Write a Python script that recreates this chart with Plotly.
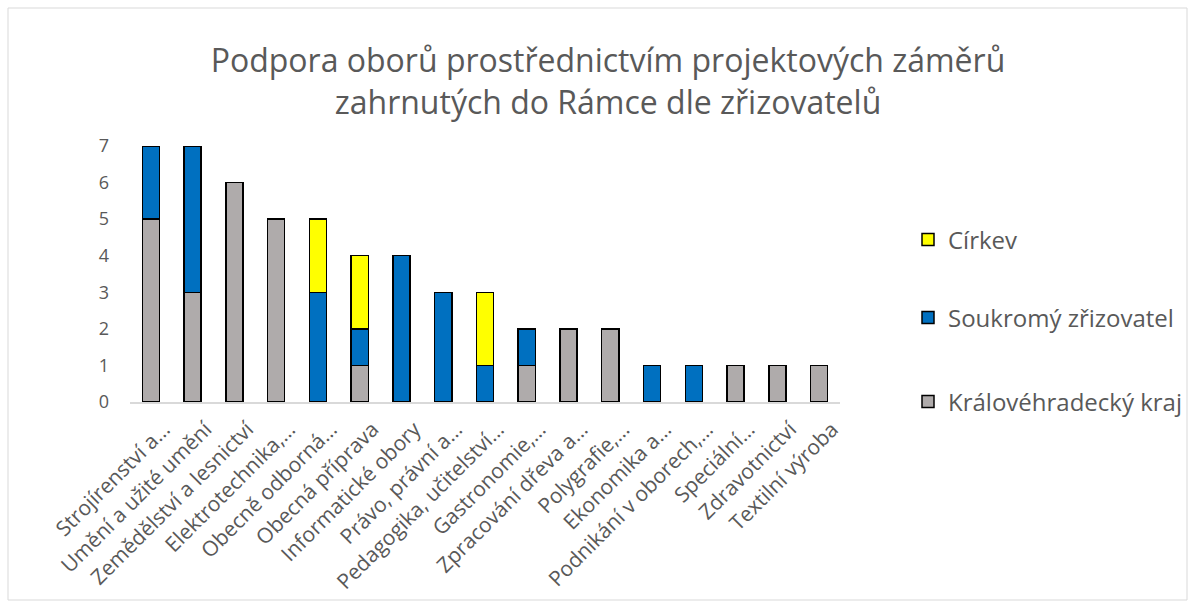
import plotly.graph_objects as go

# Categories (truncated as displayed on the axis)
categories = [
    "Strojírenství a…", "Umění a užité umění", "Zemědělství a lesnictví",
    "Elektrotechnika,…", "Obecně odborná…", "Obecná příprava",
    "Informatické obory", "Právo, právní a…", "Pedagogika, učitelství…",
    "Gastronomie,…", "Zpracování dřeva a…", "Polygrafie,…",
    "Ekonomika a…", "Podnikání v oborech,…", "Speciální…",
    "Zdravotnictví", "Textilní výroba",
]

kraj = [5, 3, 6, 5, 0, 1, 0, 0, 0, 1, 2, 2, 0, 0, 1, 1, 1]
soukromy = [2, 4, 0, 0, 3, 1, 4, 3, 1, 1, 0, 0, 1, 1, 0, 0, 0]
cirkev = [0, 0, 0, 0, 2, 2, 0, 0, 2, 0, 0, 0, 0, 0, 0, 0, 0]

series_names = ["Královéhradecký kraj", "Soukromý zřizovatel", "Církev"]
series_values = [kraj, soukromy, cirkev]
series_colors = ["#AFABAB", "#0070C0", "#FFFF00"]
legend_ids = ["legend3", "legend2", "legend"]

FONT = "'Open Sans', sans-serif"
TEXT = "#595959"

fig = go.Figure()
for name, vals, col, lg in zip(series_names, series_values, series_colors, legend_ids):
    fig.add_trace(go.Bar(
        x=categories, y=[v if v else None for v in vals], name=name,
        marker=dict(color=col, line=dict(color="#000000", width=1.5)),
        width=0.41, legend=lg, showlegend=True,
    ))

W, H = 1194, 608
L, R, T, B = 130, 354, 146, 206
pw, ph = W - L - R, H - T - B

def px(x):
    return (x - L) / pw

def py(y):
    return (H - B - y) / ph

legend_common = dict(
    font=dict(family=FONT, size=24, color=TEXT),
    bgcolor="rgba(0,0,0,0)", xanchor="left", yanchor="middle",
    itemwidth=30,
)

fig.update_layout(
    width=W, height=H,
    margin=dict(l=L, r=R, t=T, b=B, autoexpand=False),
    barmode="stack",
    showlegend=True,
    plot_bgcolor="white", paper_bgcolor="white",
    font=dict(family=FONT, color=TEXT),
    title=dict(
        text="Podpora oborů prostřednictvím projektových záměrů<br>zahrnutých do Rámce dle zřizovatelů",
        x=608 / W, xanchor="center", xref="container",
        y=1 - 72 / H, yanchor="middle", yref="container",
        font=dict(family=FONT, size=32, color=TEXT),
    ),
    xaxis=dict(
        tickangle=-45, tickfont=dict(family=FONT, size=21, color=TEXT),
        showline=True, linecolor="#D9D9D9", linewidth=1.5,
        showgrid=False, ticks="", range=[-0.5, 16.5],
        ticklabelstandoff=5, ticklabelshift=13, automargin=False,
    ),
    yaxis=dict(
        range=[0, 7], dtick=1, showgrid=False, zeroline=False,
        showline=False, tickfont=dict(family=FONT, size=18, color=TEXT),
        ticks="", ticklabelstandoff=20, automargin=False,
    ),
    legend=dict(x=px(908), y=py(240), **legend_common),
    legend2=dict(x=px(908), y=py(318), **legend_common),
    legend3=dict(x=px(908), y=py(402), **legend_common),
    shapes=[dict(
        type="rect", xref="paper", yref="paper",
        x0=px(8), x1=px(1187), y0=py(600), y1=py(8),
        line=dict(color="#D9D9D9", width=1), fillcolor="rgba(0,0,0,0)",
        layer="below",
    )],
)

fig.write_html("out.html")
